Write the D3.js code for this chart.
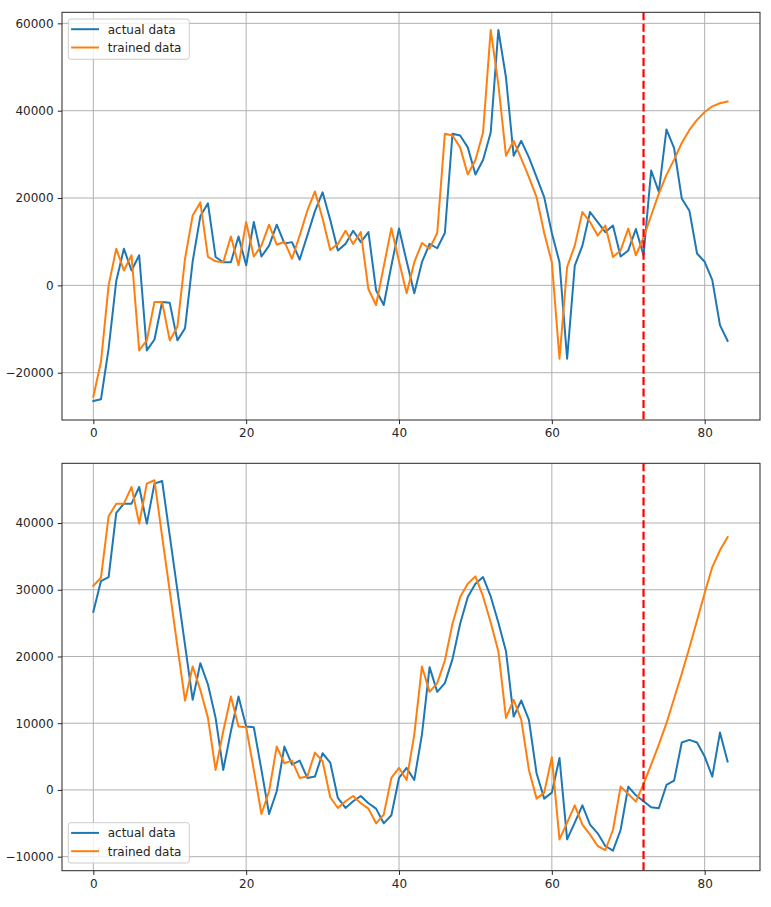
<!DOCTYPE html>
<html>
<head>
<meta charset="utf-8">
<script src="https://cdn.jsdelivr.net/npm/d3@7"></script>
<style>
  html, body { margin: 0; padding: 0; background: #ffffff; }
  svg { display: block; }
  text { font-family: "DejaVu Sans", sans-serif; fill: #262626; }
</style>
</head>
<body>
<svg id="chart" width="771" height="907"></svg>
<script>
// ---------- data ----------
const seriesNames = ["actual data", "trained data"];
const splitIndex = 72;

const topActual = [
  -26500, -26100, -14500, 1000, 8400, 3400, 6900, -14900, -12400, -3800,
  -4000, -12600, -9800, 5500, 15800, 18800, 6500, 5300, 5300, 11200,
  4600, 14500, 6600, 9100, 13900, 9600, 9900, 5900, 11400, 17000,
  21300, 15000, 8000, 9500, 12500, 9900, 12200, -1100, -4500, 4500,
  13000, 5500, -1800, 5300, 9500, 8500, 12000, 34700, 34300, 31600,
  25400, 28700, 35000, 58500, 47600, 29700, 33100, 29300, 24800, 20200,
  12000, 5300, -16800, 4500, 9100, 16800, 14500, 12200, 13700, 6600,
  8000, 12900, 6900, 26300, 21400, 35700, 31400, 19900, 17100, 7300,
  5400, 1200, -9100, -12700
];
const topTrained = [
  -25500, -17500, 0, 8400, 3400, 6900, -14900, -12600, -3800, -3800,
  -12600, -9500, 6100, 16000, 19000, 6500, 5500, 5300, 11200, 4600,
  14500, 6600, 9100, 13900, 9300, 10000, 6100, 11400, 17100, 21500,
  15300, 8100, 9500, 12500, 9500, 12200, -900, -4500, 4300, 13100,
  5500, -1800, 5300, 9700, 8400, 12000, 34700, 34300, 31600, 25400,
  28700, 35000, 58500, 46000, 29700, 33100, 29000, 24800, 20200, 12000,
  5300, -16800, 4200, 9100, 16800, 14500, 11400, 13700, 6500, 8000,
  13000, 6900, 11000, 16000, 21000, 25300, 28800, 32600, 35600, 37900,
  39700, 41000, 41700, 42100
];
const bottomActual = [
  26700, 31300, 31900, 41500, 42900, 42900, 45400, 39900, 45900, 46300,
  38100, 29900, 21700, 13500, 19000, 15800, 10800, 3000, 8800, 14000,
  9500, 9400, 3000, -3600, -200, 6500, 3800, 4400, 1800, 2000,
  5500, 4100, -1200, -2700, -1700, -900, -2000, -2800, -5000, -3800,
  1800, 3300, 1500, 8300, 18400, 14700, 16000, 19600, 24900, 28900,
  30900, 31900, 29000, 25100, 20800, 11000, 13400, 10500, 2500, -1300,
  -400, 4800, -7400, -4900, -2300, -5200, -6500, -8400, -9100, -6000,
  500, -800, -1700, -2600, -2750, 750, 1400, 7100, 7500, 7100,
  5000, 2000, 8600, 4250
];
const bottomTrained = [
  30600, 31800, 41000, 42900, 42900, 45400, 39900, 45900, 46400, 38000,
  29800, 21500, 13400, 18500, 15000, 10800, 3000, 8800, 14000, 9500,
  9400, 3000, -3600, -200, 6500, 4000, 4400, 1800, 2000, 5600,
  4300, -1100, -2700, -1700, -900, -2000, -2800, -5000, -3700, 1800,
  3300, 1500, 8300, 18500, 14700, 16000, 19400, 24900, 28900, 30900,
  32000, 29000, 25100, 20800, 10800, 13500, 10500, 3000, -1300, -400,
  4900, -7400, -4900, -2300, -5200, -6700, -8400, -9000, -6000, 500,
  -600, -1750, 900, 3800, 6800, 10000, 13700, 17400, 21300, 25400,
  29500, 33400, 35900, 37900
];

const xTicks = [0, 20, 40, 60, 80];
const topYTicks = [-20000, 0, 20000, 40000, 60000];
const bottomYTicks = [-10000, 0, 10000, 20000, 30000, 40000];

// ---------- layout ----------
const svg = d3.select("#chart");
const colors = ["#1f77b4", "#ff7f0e"];
const left = 62, right = 760;
const fmt = v => (v < 0 ? "\u2212" + Math.abs(v) : String(v));

function drawPanel(cfg) {
  const x = d3.scaleLinear().domain([-4.1, 87.24]).range([left, right]);
  const y = d3.scaleLinear().domain(cfg.yDomain).range([cfg.bottom, cfg.top]);
  const g = svg.append("g");

  // grid
  g.append("g").selectAll("line").data(xTicks).join("line")
    .attr("x1", d => x(d)).attr("x2", d => x(d))
    .attr("y1", cfg.top).attr("y2", cfg.bottom)
    .attr("stroke", "#b0b0b0").attr("stroke-width", 1);
  g.append("g").selectAll("line").data(cfg.yTicks).join("line")
    .attr("x1", left).attr("x2", right)
    .attr("y1", d => y(d)).attr("y2", d => y(d))
    .attr("stroke", "#b0b0b0").attr("stroke-width", 1);

  // lines
  const clipId = "clip" + cfg.id;
  svg.append("clipPath").attr("id", clipId).append("rect")
    .attr("x", left).attr("y", cfg.top).attr("width", right - left).attr("height", cfg.bottom - cfg.top);
  const line = d3.line().x((d, i) => x(i)).y(d => y(d));
  const lg = g.append("g").attr("clip-path", `url(#${clipId})`);
  [cfg.actual, cfg.trained].forEach((s, k) => {
    lg.append("path").datum(s).attr("d", line)
      .attr("fill", "none").attr("stroke", colors[k])
      .attr("stroke-width", 2).attr("stroke-linejoin", "round").attr("stroke-linecap", "square");
  });
  // split marker
  lg.append("line")
    .attr("x1", x(splitIndex)).attr("x2", x(splitIndex))
    .attr("y1", cfg.top).attr("y2", cfg.bottom)
    .attr("stroke", "#ff0000").attr("stroke-width", 2.2)
    .attr("stroke-dasharray", "8,3.4");

  // spines
  g.append("rect").attr("x", left).attr("y", cfg.top)
    .attr("width", right - left).attr("height", cfg.bottom - cfg.top)
    .attr("fill", "none").attr("stroke", "#262626").attr("stroke-width", 1);

  // axes (ticks)
  const xAxis = d3.axisBottom(x).tickValues(xTicks).tickSize(4.2).tickPadding(4.2).tickFormat(fmt);
  const yAxis = d3.axisLeft(y).tickValues(cfg.yTicks).tickSize(4.2).tickPadding(4.2).tickFormat(fmt);
  const gx = g.append("g").attr("transform", `translate(0,${cfg.bottom})`).call(xAxis);
  const gy = g.append("g").attr("transform", `translate(${left},0)`).call(yAxis);
  [gx, gy].forEach(a => {
    a.select(".domain").remove();
    a.selectAll(".tick line").attr("stroke", "#262626").attr("stroke-width", 1);
    a.selectAll(".tick text").attr("font-family", "DejaVu Sans, sans-serif")
      .attr("font-size", 12).attr("fill", "#262626");
  });

  // legend
  const L = cfg.legend;
  const lgd = g.append("g");
  lgd.append("rect").attr("x", L.x).attr("y", L.y).attr("width", 121).attr("height", 40.3)
    .attr("rx", 2.5).attr("fill", "#ffffff").attr("fill-opacity", 0.8)
    .attr("stroke", "#cccccc").attr("stroke-width", 1);
  seriesNames.forEach((name, k) => {
    const cy = L.y + 10.2 + k * 18.3;
    lgd.append("line").attr("x1", L.x + 2.8).attr("x2", L.x + 30.7)
      .attr("y1", cy).attr("y2", cy)
      .attr("stroke", colors[k]).attr("stroke-width", 2);
    lgd.append("text").attr("x", L.x + 39.4).attr("y", cy + 4.4)
      .attr("font-size", 12).text(name);
  });
}

drawPanel({
  id: "top", top: 12.3, bottom: 420, yDomain: [-30830, 62530],
  yTicks: topYTicks, actual: topActual, trained: topTrained,
  legend: { x: 68.3, y: 19 }
});
drawPanel({
  id: "bottom", top: 463.3, bottom: 870.7, yDomain: [-12100, 48945],
  yTicks: bottomYTicks, actual: bottomActual, trained: bottomTrained,
  legend: { x: 68.3, y: 822.7 }
});
</script>
</body>
</html>
